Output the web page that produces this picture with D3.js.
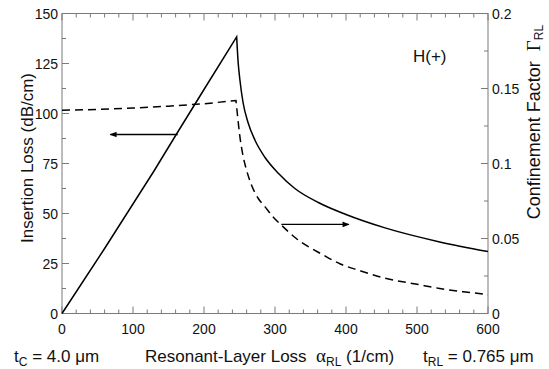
<!DOCTYPE html>
<html>
<head>
<meta charset="utf-8">
<script src="https://cdn.jsdelivr.net/npm/d3@7"></script>
<style>
  body { margin: 0; background: #fff; }
  svg text { font-family: "Liberation Sans", Arial, Helvetica, sans-serif; fill: #111; }
</style>
</head>
<body>
<svg id="chart" width="549" height="369"></svg>
<script>
// Resonant-layer loss (1/cm) vs insertion loss (dB/cm), solid curve, left axis
const lossAlpha = [0, 60, 130, 160, 200, 246, 248, 250.5, 255, 262, 272, 286, 305, 328, 361, 400, 455, 532, 600];
const lossValues = [0, 32.5, 71.5, 89, 112, 138.3, 126, 117, 105.5, 95.5, 86.5, 78, 70, 62.5, 55.5, 49.5, 42.8, 35.8, 31];
const lossPeakIndex = 5;

// Confinement factor of the resonant layer, dashed curve, right axis
const gammaAlpha = [0, 50, 100, 150, 200, 245, 247, 250, 255, 260, 267, 276, 286, 298, 309, 330, 368, 392, 420, 457, 500, 532, 565, 600];
const gammaValues = [0.1355, 0.136, 0.137, 0.1382, 0.1398, 0.142, 0.133, 0.12, 0.105, 0.0955, 0.0855, 0.077, 0.0711, 0.064, 0.0589, 0.05, 0.039, 0.033, 0.0285, 0.0233, 0.0195, 0.0167, 0.0145, 0.0127];
const gammaPeakIndex = 5;

const xTicks = [0, 100, 200, 300, 400, 500, 600];
const leftTicks = [0, 25, 50, 75, 100, 125, 150];
const rightTicks = [0, 0.05, 0.1, 0.15, 0.2];
const rightTickLabels = ["0", "0.05", "0.1", "0.15", "0.2"];

const svg = d3.select("#chart");
const m = { left: 62, right: 488, top: 13.5, bottom: 313.5 };

const x = d3.scaleLinear().domain([0, 600]).range([m.left, m.right]);
const yL = d3.scaleLinear().domain([0, 150]).range([m.bottom, m.top]);
const yR = d3.scaleLinear().domain([0, 0.2]).range([m.bottom, m.top]);

const axisColor = "#7a7a7a";
const major = 7, minor = 4;

// frame
const g = svg.append("g");
g.append("rect")
  .attr("x", m.left).attr("y", m.top)
  .attr("width", m.right - m.left).attr("height", m.bottom - m.top)
  .attr("fill", "none").attr("stroke", axisColor).attr("stroke-width", 1);

// inward ticks on all four sides
d3.range(0, 601, 20).forEach(v => {
  const len = v % 100 === 0 ? major : minor;
  g.append("line").attr("x1", x(v)).attr("x2", x(v))
    .attr("y1", m.bottom).attr("y2", m.bottom - len)
    .attr("stroke", axisColor);
  g.append("line").attr("x1", x(v)).attr("x2", x(v))
    .attr("y1", m.top).attr("y2", m.top + len)
    .attr("stroke", axisColor);
});
d3.range(0, 150.1, 12.5).forEach(v => {
  const len = v % 25 === 0 ? major : minor;
  g.append("line").attr("x1", m.left).attr("x2", m.left + len)
    .attr("y1", yL(v)).attr("y2", yL(v)).attr("stroke", axisColor);
});
d3.range(0, 8.1, 1).forEach(i => {
  const v = i * 0.025;
  const len = i % 2 === 0 ? major : minor;
  g.append("line").attr("x1", m.right).attr("x2", m.right - len)
    .attr("y1", yR(v)).attr("y2", yR(v)).attr("stroke", axisColor);
});

// tick labels
g.selectAll(".xl").data(xTicks).join("text")
  .attr("x", d => x(d)).attr("y", 334)
  .attr("text-anchor", "middle").attr("font-size", 14)
  .text(d => d);
g.selectAll(".yl").data(leftTicks).join("text")
  .attr("x", 58).attr("y", d => yL(d) + 5)
  .attr("text-anchor", "end").attr("font-size", 14)
  .text(d => d);
g.selectAll(".yr").data(rightTicks).join("text")
  .attr("x", 492).attr("y", d => yR(d) + 5)
  .attr("text-anchor", "start").attr("font-size", 14)
  .text((d, i) => rightTickLabels[i]);

// curves: straight rise to the peak, smooth decay after it
function drawCurve(xs, ys, peak, yScale, dash) {
  const pts = xs.map((a, i) => [x(a), yScale(ys[i])]);
  const rise = d3.line().curve(d3.curveLinear)(pts.slice(0, peak + 1));
  const fall = d3.line().curve(d3.curveMonotoneX)(pts.slice(peak));
  const p = svg.append("path")
    .attr("d", rise + fall.replace(/^M/, "L"))
    .attr("fill", "none").attr("stroke", "#000")
    .attr("stroke-width", 1.5).attr("stroke-linejoin", "miter");
  if (dash) p.attr("stroke-dasharray", dash);
}
drawCurve(lossAlpha, lossValues, lossPeakIndex, yL, null);
drawCurve(gammaAlpha, gammaValues, gammaPeakIndex, yR, "8,5");

// arrows pointing to each curve's axis
const defs = svg.append("defs");
defs.append("marker").attr("id", "head")
  .attr("viewBox", "0 0 10 10").attr("refX", 9).attr("refY", 5)
  .attr("markerWidth", 9).attr("markerHeight", 7).attr("orient", "auto")
  .attr("markerUnits", "userSpaceOnUse")
  .append("path").attr("d", "M0,1 L10,5 L0,9 Z").attr("fill", "#000");

svg.append("line")
  .attr("x1", x(163)).attr("x2", x(68))
  .attr("y1", yL(89.5)).attr("y2", yL(89.5))
  .attr("stroke", "#000").attr("stroke-width", 1.3).attr("marker-end", "url(#head)");
svg.append("line")
  .attr("x1", x(309)).attr("x2", x(404))
  .attr("y1", yR(0.0594)).attr("y2", yR(0.0594))
  .attr("stroke", "#000").attr("stroke-width", 1.3).attr("marker-end", "url(#head)");

// annotation
svg.append("text").attr("x", 413).attr("y", 62).attr("font-size", 17).text("H(+)");

// left axis title
svg.append("text")
  .attr("transform", "translate(33,158) rotate(-90)")
  .attr("text-anchor", "middle").attr("font-size", 17)
  .text("Insertion Loss (dB/cm)");

// right axis title
const rt = svg.append("text")
  .attr("transform", "translate(540,122) rotate(-90)")
  .attr("text-anchor", "middle").attr("font-size", 18);
rt.append("tspan").text("Confinement Factor\u00a0\u00a0");
rt.append("tspan").attr("font-family", "'Liberation Serif', 'Times New Roman', serif").attr("font-size", 19).text("Γ");
rt.append("tspan").attr("font-size", 12).attr("dy", 3).text("RL");

// bottom texts
const t1 = svg.append("text").attr("x", 14).attr("y", 362).attr("font-size", 17);
t1.append("tspan").text("t");
t1.append("tspan").attr("font-size", 12).attr("dy", 4).text("C");
t1.append("tspan").attr("dy", -4).text(" = 4.0 μm");

const t2 = svg.append("text").attr("x", 145).attr("y", 362).attr("font-size", 17);
t2.append("tspan").text("Resonant-Layer Loss\u00a0\u00a0");
t2.append("tspan").attr("font-family", "'Liberation Serif', 'Times New Roman', serif").attr("font-size", 19).text("α");
t2.append("tspan").attr("font-size", 12).attr("dy", 4).text("RL");
t2.append("tspan").attr("dy", -4).text(" (1/cm)");

const t3 = svg.append("text").attr("x", 423).attr("y", 362).attr("font-size", 17);
t3.append("tspan").text("t");
t3.append("tspan").attr("font-size", 12).attr("dy", 4).text("RL");
t3.append("tspan").attr("dy", -4).text(" = 0.765 μm");
</script>
</body>
</html>
